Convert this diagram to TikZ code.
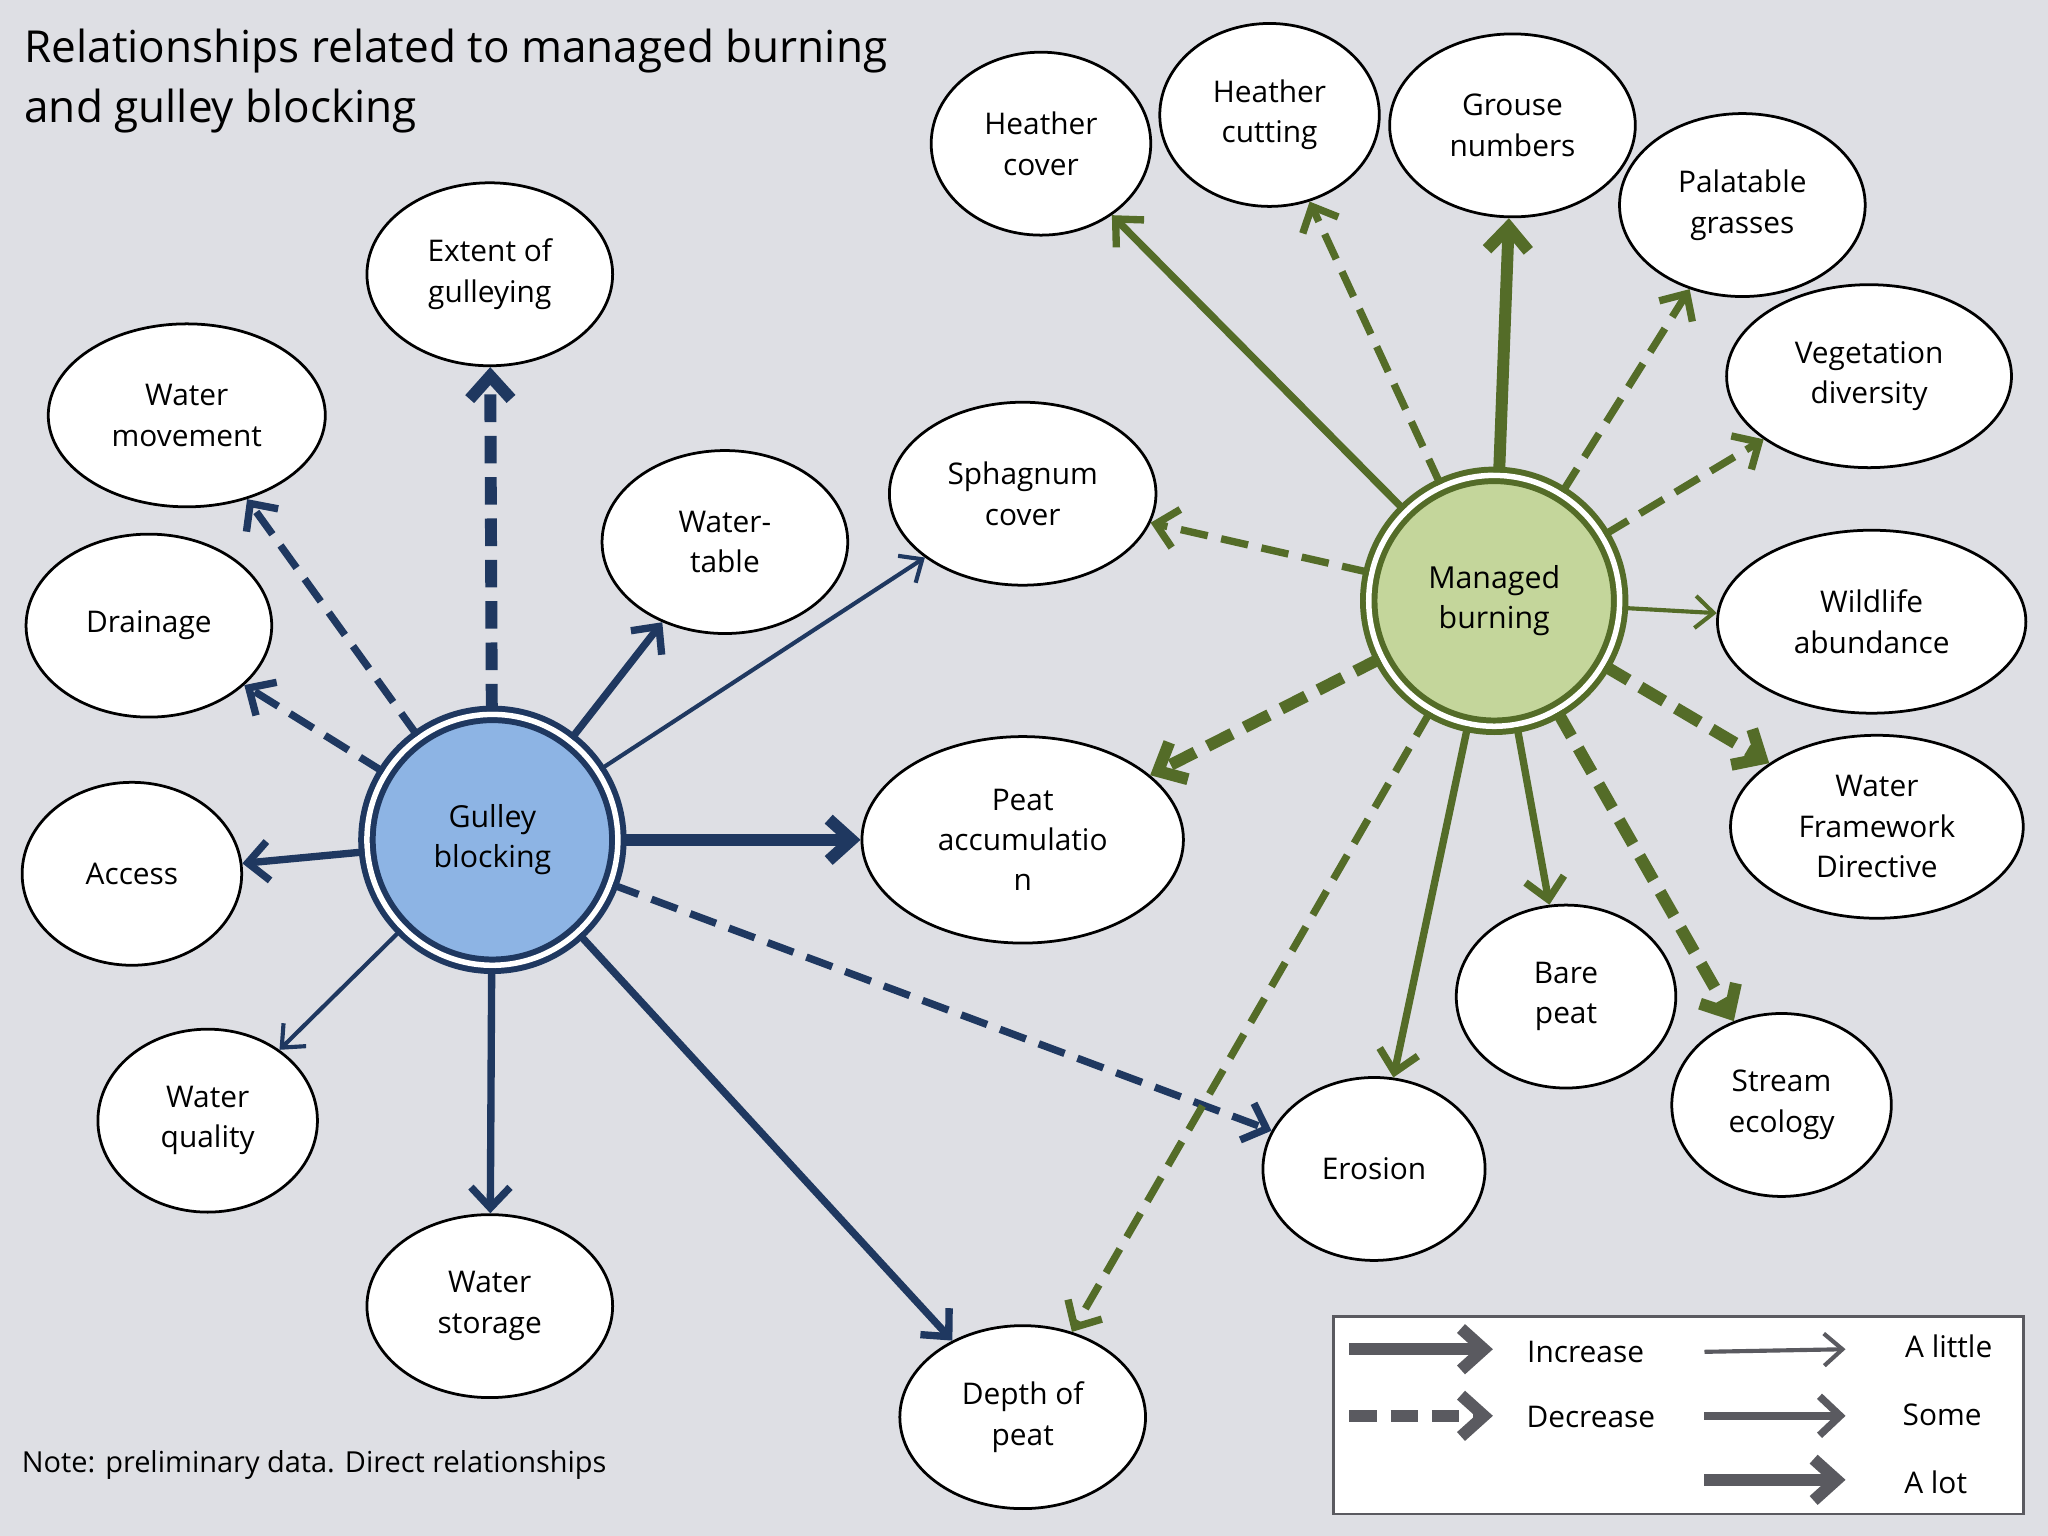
\documentclass[tikz,border=0pt]{standalone}
\usepackage{fontspec}
\setmainfont{Open Sans}
\usetikzlibrary{shapes.geometric,arrows.meta}
\definecolor{bgc}{RGB}{222,223,228}
\definecolor{blu}{RGB}{31,56,96}
\definecolor{grn}{RGB}{84,108,40}
\definecolor{gbf}{RGB}{141,180,228}
\definecolor{mbf}{RGB}{196,214,155}
\definecolor{leg}{RGB}{90,90,96}
\begin{document}
\begin{tikzpicture}[x=0.01cm,y=-0.01cm,
 el/.style={ellipse,draw=black,fill=white,line width=0.6pt,align=center,font=\fontsize{6.5}{8.8}\selectfont,inner sep=0pt},
 hub/.style={circle,double,double distance=1.2pt,line width=1.3pt,minimum size=1.92cm,align=center,font=\fontsize{6.6}{8.8}\selectfont},
 little/.style={line width=0.9pt,-{Straight Barb[length=4pt,width=7pt]}},
 some/.style={line width=1.6pt,-{Straight Barb[length=4.5pt,width=8.5pt]}},
 lot/.style={line width=2.6pt,-{Straight Barb[length=5pt,width=9pt]}},
 dsh/.style={dash pattern=on 6pt off 3pt},
]
\fill[bgc] (0,0) rectangle (1568,1176);
\node[anchor=west,align=left,inner sep=0pt,font=\fontsize{9.6}{13.2}\selectfont] (title) at (18,62) {Relationships related to managed burning\\and gulley blocking};
\node[anchor=west,inner sep=0pt,font=\fontsize{6.3}{8.8}\selectfont] (note) at (16,1122) {Note: preliminary data. Direct relationships};

\node[hub,draw=blu,fill=gbf] (gb) at (377,643) {Gulley\\blocking};
\node[hub,draw=grn,fill=mbf] (mb) at (1144,460) {Managed\\burning};

\node[el,minimum width=1.88cm,minimum height=1.4cm] (ext) at (375,210) {Extent of\\gulleying};
\node[el,minimum width=2.12cm,minimum height=1.4cm] (wm) at (143,318) {Water\\movement};
\node[el,minimum width=1.88cm,minimum height=1.4cm] (dr) at (114,479) {Drainage};
\node[el,minimum width=1.68cm,minimum height=1.4cm] (ac) at (101,669) {Access};
\node[el,minimum width=1.68cm,minimum height=1.4cm] (wq) at (159,858) {Water\\quality};
\node[el,minimum width=1.88cm,minimum height=1.4cm] (ws) at (375,1000) {Water\\storage};
\node[el,minimum width=1.88cm,minimum height=1.4cm] (wt) at (555,415) {Water-\\table};
\node[el,minimum width=2.04cm,minimum height=1.4cm] (sp) at (783,378) {Sphagnum\\cover};
\node[el,minimum width=2.46cm,minimum height=1.58cm] (pa) at (783,643) {Peat\\accumulatio\\n};
\node[el,minimum width=1.88cm,minimum height=1.4cm] (dp) at (783,1085) {Depth of\\peat};
\node[el,minimum width=1.7cm,minimum height=1.4cm] (er) at (1052,895) {Erosion};
\node[el,minimum width=1.68cm,minimum height=1.4cm] (bp) at (1199,763) {Bare\\peat};
\node[el,minimum width=1.68cm,minimum height=1.4cm] (se) at (1364,846) {Stream\\ecology};
\node[el,minimum width=2.24cm,minimum height=1.4cm] (wfd) at (1437,633) {Water\\Framework\\Directive};
\node[el,minimum width=2.36cm,minimum height=1.4cm] (wa) at (1433,476) {Wildlife\\abundance};
\node[el,minimum width=2.18cm,minimum height=1.4cm] (vd) at (1431,288) {Vegetation\\diversity};
\node[el,minimum width=1.88cm,minimum height=1.4cm] (pg) at (1334,157) {Palatable\\grasses};
\node[el,minimum width=1.88cm,minimum height=1.4cm] (gn) at (1158,96) {Grouse\\numbers};
\node[el,minimum width=1.68cm,minimum height=1.4cm] (hcu) at (972,88) {Heather\\cutting};
\node[el,minimum width=1.68cm,minimum height=1.4cm] (hco) at (797,110) {Heather\\cover};

\begin{scope}[blu]
\draw[lot,dsh] (gb) -- (ext);
\draw[some,dsh] (gb) -- (wm);
\draw[some,dsh] (gb) -- (dr);
\draw[some] (gb) -- (ac);
\draw[little] (gb) -- (wq);
\draw[some] (gb) -- (ws);
\draw[some] (gb) -- (dp);
\draw[some,dsh] (gb) -- (er);
\draw[lot] (gb) -- (pa);
\draw[little] (gb) -- (sp);
\draw[some] (gb) -- (wt);
\end{scope}
\begin{scope}[grn]
\draw[some] (mb) -- (hco);
\draw[some,dsh] (mb) -- (hcu);
\draw[lot] (mb) -- (gn);
\draw[some,dsh] (mb) -- (pg);
\draw[some,dsh] (mb) -- (vd);
\draw[little] (mb) -- (wa);
\draw[lot,dsh] (mb) -- (wfd);
\draw[lot,dsh] (mb) -- (se);
\draw[some] (mb) -- (bp);
\draw[some] (mb) -- (er);
\draw[some,dsh] (mb) -- (dp);
\draw[lot,dsh] (mb) -- (pa);
\draw[some,dsh] (mb) -- (sp);
\end{scope}

\node[draw=leg,fill=white,line width=0.6pt,minimum width=5.28cm,minimum height=1.51cm,anchor=north west] (lg) at (1020,1007) {};
\begin{scope}[leg]
\coordinate (i1) at (1033,1033); \coordinate (i2) at (1143,1033);
\coordinate (d1) at (1033,1084); \coordinate (d2) at (1143,1084);
\coordinate (l1) at (1305,1035); \coordinate (l2) at (1413,1033);
\coordinate (s1) at (1305,1084); \coordinate (s2) at (1413,1084);
\coordinate (a1) at (1305,1133); \coordinate (a2) at (1413,1133);
\draw[lot] (i1) -- (i2);
\draw[lot,dsh] (d1) -- (d2);
\draw[little] (l1) -- (l2);
\draw[some] (s1) -- (s2);
\draw[lot] (a1) -- (a2);
\end{scope}
\begin{scope}[font=\fontsize{6.5}{8.8}\selectfont]
\node (ti) at (1214,1035) {Increase};
\node (td) at (1218,1085) {Decrease};
\node (tl) at (1492,1031) {A little};
\node (ts) at (1487,1083) {Some};
\node (ta) at (1482,1135) {A lot};
\end{scope}
\end{tikzpicture}
\end{document}
